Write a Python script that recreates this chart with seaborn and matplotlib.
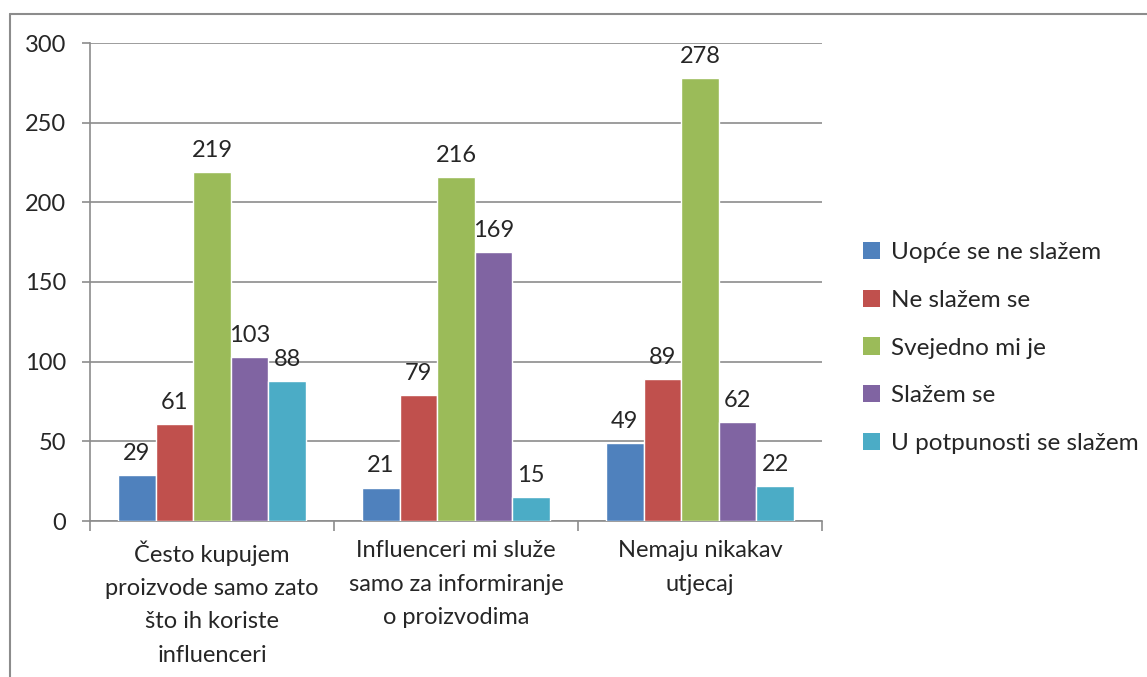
import pandas as pd
import matplotlib.pyplot as plt
import seaborn as sns
from matplotlib.patches import Patch
from matplotlib.lines import Line2D

sns.set_style("white")
plt.rcParams["font.family"] = ["Lato", "DejaVu Sans"]

# Data
categories = [
    "Često kupujem\nproizvode samo zato\nšto ih koriste\ninfluenceri",
    "Influenceri mi služe\nsamo za informiranje\no proizvodima",
    "Nemaju nikakav\nutjecaj",
]
responses = ["Uopće se ne slažem", "Ne slažem se", "Svejedno mi je", "Slažem se", "U potpunosti se slažem"]
uopce = [29, 21, 49]
ne_slazem = [61, 79, 89]
svejedno = [219, 216, 278]
slazem = [103, 169, 62]
potpuno = [88, 15, 22]
colors = ["#4F81BD", "#C0504D", "#9BBB59", "#8064A2", "#4BACC6"]

rows = []
for resp, vals in zip(responses, [uopce, ne_slazem, svejedno, slazem, potpuno]):
    for cat, v in zip(categories, vals):
        rows.append({"category": cat, "response": resp, "count": v})
df = pd.DataFrame(rows)

fig = plt.figure(figsize=(11.47, 6.77), dpi=100)
ax = fig.add_axes([90 / 1147, 156 / 677, 732 / 1147, 478 / 677])

sns.barplot(data=df, x="category", y="count", hue="response", hue_order=responses,
            palette=colors, width=0.77, saturation=1, ax=ax, legend=False, zorder=3)

for container in ax.containers:
    ax.bar_label(container, padding=8, fontsize=17)

ax.set_ylim(0, 300)
ax.set_xlim(-0.5, 2.5)
ax.set_yticks(range(0, 301, 50))
ax.yaxis.grid(True, color="#8c8c8c", linewidth=1.2, zorder=0)
ax.set_axisbelow(True)
ax.set_xlabel("")
ax.set_ylabel("")

for s in ["top", "right"]:
    ax.spines[s].set_visible(False)
for s in ["left", "bottom"]:
    ax.spines[s].set_color("#8c8c8c")
    ax.spines[s].set_linewidth(1.2)

ax.tick_params(axis="y", labelsize=17, length=6, color="#8c8c8c", width=1.2, pad=11, left=True)
ax.set_xticks([0, 1, 2])
ax.set_xticklabels(categories, fontsize=17, linespacing=1.72)
ax.tick_params(axis="x", length=0, pad=14)
ax.set_xticks([-0.5, 0.5, 1.5, 2.5], minor=True)
ax.tick_params(axis="x", which="minor", length=7, color="#8c8c8c", width=1.2, bottom=True)

handles = [Patch(facecolor=c, edgecolor="none") for c in colors]
fig.legend(handles, responses, loc="center left", bbox_to_anchor=(841 / 1147, 1 - 348 / 677),
           frameon=False, fontsize=17.5, handlelength=0.7, handleheight=0.7,
           handletextpad=0.45, labelspacing=1.1)

# outer frame
fig.add_artist(Line2D([9.5 / 1147, 9.5 / 1147], [0, 1 - 13.5 / 677], transform=fig.transFigure,
                      color="#8c8c8c", linewidth=1.5))
fig.add_artist(Line2D([9.5 / 1147, 1], [1 - 13.5 / 677, 1 - 13.5 / 677], transform=fig.transFigure,
                      color="#8c8c8c", linewidth=1.5))

fig.savefig("out.png", dpi=100)
